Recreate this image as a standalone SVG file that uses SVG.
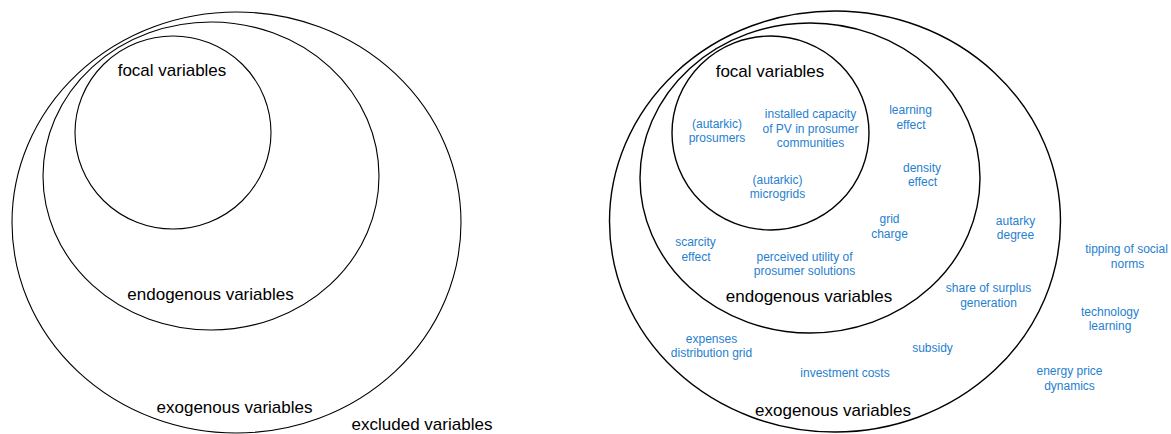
<svg xmlns="http://www.w3.org/2000/svg" width="1171" height="434" viewBox="0 0 1171 434">
<style>
.ring{fill:none;stroke:#000;stroke-width:1.1}
.ringR{fill:none;stroke:#000;stroke-width:1.4}
.lbl{font-family:"Liberation Sans",Arial,sans-serif;font-size:17px;fill:#000;text-anchor:middle}
.var{font-family:"Liberation Sans",Arial,sans-serif;font-size:12px;fill:#2680cf;text-anchor:middle}
</style>
<rect width="1171" height="434" fill="#fff"/>
<g id="left-diagram">
  <g id="left-exogenous">
    <ellipse class="ring" cx="236.5" cy="222.5" rx="224.5" ry="210.5"/>
    <text class="lbl" x="234.5" y="413">exogenous variables</text>
  </g>
  <g id="left-endogenous">
    <ellipse class="ring" cx="211" cy="176" rx="168" ry="154"/>
    <text class="lbl" x="210.5" y="300">endogenous variables</text>
  </g>
  <g id="left-focal">
    <ellipse class="ring" cx="173" cy="132.5" rx="98" ry="96.5"/>
    <text class="lbl" x="172" y="76">focal variables</text>
  </g>
  <g id="left-excluded">
    <text class="lbl" x="422" y="430">excluded variables</text>
  </g>
</g>
<g id="right-diagram">
  <g id="right-exogenous">
    <ellipse class="ringR" cx="835" cy="221.5" rx="225.5" ry="210.5"/>
    <text class="lbl" x="833" y="416">exogenous variables</text>
  </g>
  <g id="right-endogenous">
    <ellipse class="ringR" cx="810" cy="178" rx="170" ry="155"/>
    <text class="lbl" x="809" y="302">endogenous variables</text>
  </g>
  <g id="right-focal">
    <ellipse class="ringR" cx="770.5" cy="133" rx="98.5" ry="97"/>
    <text class="lbl" x="770" y="77">focal variables</text>
  </g>
  <g id="focal-items">
    <text class="var" x="717" y="128">(autarkic)</text>
    <text class="var" x="717" y="142">prosumers</text>
    <text class="var" x="810.5" y="118">installed capacity</text>
    <text class="var" x="810.5" y="132.5">of PV in prosumer</text>
    <text class="var" x="810.5" y="147">communities</text>
    <text class="var" x="777.5" y="184">(autarkic)</text>
    <text class="var" x="777.5" y="198">microgrids</text>
  </g>
  <g id="endogenous-items">
    <text class="var" x="910.5" y="114">learning</text>
    <text class="var" x="911" y="128.5">effect</text>
    <text class="var" x="922" y="172">density</text>
    <text class="var" x="922.5" y="186">effect</text>
    <text class="var" x="889.5" y="223">grid</text>
    <text class="var" x="889.5" y="237.5">charge</text>
    <text class="var" x="695.5" y="246">scarcity</text>
    <text class="var" x="696" y="261">effect</text>
    <text class="var" x="804.5" y="261">perceived utility of</text>
    <text class="var" x="804.5" y="275">prosumer solutions</text>
  </g>
  <g id="exogenous-items">
    <text class="var" x="1015.5" y="225">autarky</text>
    <text class="var" x="1015.5" y="239">degree</text>
    <text class="var" x="988.5" y="292">share of surplus</text>
    <text class="var" x="988.5" y="306.5">generation</text>
    <text class="var" x="711.5" y="343">expenses</text>
    <text class="var" x="711.5" y="357">distribution grid</text>
    <text class="var" x="932.5" y="352">subsidy</text>
    <text class="var" x="845" y="377">investment costs</text>
  </g>
  <g id="excluded-items">
    <text class="var" x="1126.5" y="253">tipping of social</text>
    <text class="var" x="1127.5" y="268">norms</text>
    <text class="var" x="1110" y="315.5">technology</text>
    <text class="var" x="1110" y="330">learning</text>
    <text class="var" x="1069.5" y="375">energy price</text>
    <text class="var" x="1069.5" y="390">dynamics</text>
  </g>
</g>
<g id="connectors"/>
</svg>
